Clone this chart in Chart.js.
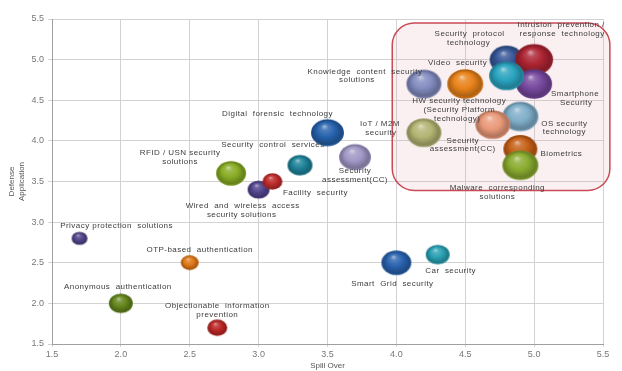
<!DOCTYPE html>
<html>
<head>
<meta charset="utf-8">
<script src="https://cdn.jsdelivr.net/npm/chart.js"></script>
<style>
  html, body { margin: 0; padding: 0; background: #fff; }
  #wrap { width: 622px; height: 371px; }
</style>
</head>
<body>
<div id="wrap"><canvas id="bubbleChart" width="622" height="371"></canvas></div>
<script>
// 技術名（ラベルは行ごとに分割）
const names = [
  ['Privacy protection  solutions'],
  ['Anonymous  authentication'],
  ['OTP-based  authentication'],
  ['Objectionable  information', 'prevention'],
  ['RFID / USN security', 'solutions'],
  ['Wired  and  wireless  access', 'security solutions'],
  ['Facility  security'],
  ['Security  control  services'],
  ['Digital  forensic  technology'],
  ['Security', 'assessment(CC)'],
  ['Smart  Grid  security'],
  ['Car  security'],
  ['Knowledge  content  security', 'solutions'],
  ['HW security technology', '(Security Platform', 'technology)'],
  ['IoT / M2M', 'security'],
  ['Security  protocol', 'technology'],
  ['Intrusion  prevention /', 'response  technology'],
  ['Smartphone', 'Security'],
  ['Video  security'],
  ['OS security', 'technology'],
  ['Security', 'assessment(CC)'],
  ['Biometrics'],
  ['Malware  corresponding', 'solutions']
];

// Spill Over
const spillOver = [1.7, 2.0, 2.5, 2.7, 2.8, 3.0, 3.1, 3.3, 3.5, 3.7, 4.0, 4.3,
  4.2, 4.5, 4.2, 4.8, 5.0, 5.0, 4.8, 4.9, 4.7, 4.9, 4.9];
// Defense Application
const defenseApp = [2.8, 2.0, 2.5, 1.7, 3.6, 3.4, 3.5, 3.7, 4.1, 3.8, 2.5, 2.6,
  4.7, 4.7, 4.1, 5.0, 5.0, 4.7, 4.8, 4.3, 4.2, 3.9, 3.7];
// バブル半径（横方向, px）
const bubbleSize = [8, 12, 9, 10, 15, 11, 10, 12.5, 16.5, 16, 15, 12,
  17.5, 18, 17.5, 17, 19, 18, 17.5, 18, 17.5, 17, 18];

const axisTicks = ['1.5', '2.0', '2.5', '3.0', '3.5', '4.0', '4.5', '5.0', '5.5'];

// 色
const baseColors = ['#524488', '#64861c', '#e07818', '#bc2626', '#88ac24', '#52448c',
  '#c02c2c', '#1e8299', '#2662ac', '#a198c6', '#2862ae', '#29a0b2',
  '#838cc0', '#e8821a', '#b4b474', '#365596', '#ac2432', '#76489e',
  '#2aa4c0', '#80afca', '#ea9a7a', '#c66018', '#8aac30'];

// ラベル位置（バブル中心からのオフセット）
const labelOffsets = [
  [[37, -13]], [[-3, -17]], [[10, -13]], [[0, -22], [0, -13]],
  [[-51, -21], [-51, -12]], [[-16, 16], [-17, 25]], [[43, 11]], [[-27, -20]],
  [[-50, -19]], [[0, 14], [0, 23]], [[-4, 21]], [[13, 16]],
  [[-59, -12], [-67, -4]], [[-6, 17], [-6, 26], [-8, 35]], [[-44, -9], [-43, 0]],
  [[-37, -26], [-38, -17]], [[27, -35], [28, -26]], [[41, 10], [42, 19]],
  [[-49, -13]], [[44, 7], [44, 15]], [[-30, 16], [-30, 24]], [[41, 5]],
  [[-23, 23], [-23, 32]]
];

// 強調枠（データ座標）
const highlightBox = { x0: 3.97, x1: 5.55, y0: 3.39, y1: 5.45 };
const SQUASH = 0.82; // 球の縦横比

function mix(hex, amt) {
  const n = parseInt(hex.slice(1), 16);
  let r = (n >> 16) & 255, g = (n >> 8) & 255, b = n & 255;
  const t = amt > 0 ? 255 : 0;
  const a = Math.abs(amt);
  r = Math.round(r + (t - r) * a);
  g = Math.round(g + (t - g) * a);
  b = Math.round(b + (t - b) * a);
  return `rgb(${r},${g},${b})`;
}

// 立体風の球をcanvasで作成
const sphereCache = {};
function sphereStyle(c) {
  const i = c.dataIndex;
  if (sphereCache[i]) return sphereCache[i];
  const base = baseColors[i];
  const r = bubbleSize[i];
  const w = Math.ceil(r * 2) + 2;
  const h = Math.ceil(r * 2 * SQUASH) + 2;
  const cv = document.createElement('canvas');
  cv.width = w;
  cv.height = h;
  const g2 = cv.getContext('2d');
  g2.translate(w / 2, h / 2);
  g2.scale(1, SQUASH);
  const g = g2.createRadialGradient(-r * 0.2, -r * 0.5, 0, 0, 0, r);
  g.addColorStop(0, mix(base, 0.6));
  g.addColorStop(0.22, mix(base, 0.18));
  g.addColorStop(0.55, base);
  g.addColorStop(0.88, mix(base, -0.25));
  g.addColorStop(1, mix(base, -0.12));
  g2.beginPath();
  g2.arc(0, 0, r, 0, Math.PI * 2);
  g2.fillStyle = g;
  g2.fill();
  sphereCache[i] = cv;
  return cv;
}

const boxPlugin = {
  id: 'highlightBox',
  beforeDatasetsDraw(chart) {
    const { ctx, scales } = chart;
    const x0 = scales.x.getPixelForValue(highlightBox.x0);
    const x1 = scales.x.getPixelForValue(highlightBox.x1);
    const y0 = scales.y.getPixelForValue(highlightBox.y1);
    const y1 = scales.y.getPixelForValue(highlightBox.y0);
    ctx.save();
    ctx.beginPath();
    ctx.roundRect(x0, y0, x1 - x0, y1 - y0, 22);
    ctx.fillStyle = 'rgba(225,160,170,0.16)';
    ctx.fill();
    ctx.lineWidth = 1.5;
    ctx.strokeStyle = '#c94a55';
    ctx.stroke();
    ctx.restore();
  }
};

const labelPlugin = {
  id: 'bubbleLabels',
  afterDatasetsDraw(chart) {
    const ctx = chart.ctx;
    const meta = chart.getDatasetMeta(0);
    ctx.save();
    ctx.font = '8px "Liberation Sans", Arial, sans-serif';
    ctx.letterSpacing = '0.45px';
    ctx.fillStyle = '#3c3c3c';
    ctx.textAlign = 'center';
    ctx.textBaseline = 'middle';
    meta.data.forEach((pt, i) => {
      names[i].forEach((line, j) => {
        const off = labelOffsets[i][j];
        ctx.fillText(line, pt.x + off[0], pt.y + off[1]);
      });
    });
    ctx.restore();
  }
};

const points = spillOver.map((x, i) => ({ x, y: defenseApp[i], r: bubbleSize[i] }));

const tickFont = { family: '"Liberation Sans", Arial, sans-serif', size: 9 };

new Chart(document.getElementById('bubbleChart'), {
  type: 'bubble',
  data: {
    datasets: [{
      data: points,
      pointStyle: sphereStyle,
      backgroundColor: c => baseColors[c.dataIndex],
      borderWidth: 0,
      hoverBorderWidth: 0
    }]
  },
  options: {
    responsive: false,
    animation: false,
    events: [],
    layout: { padding: { top: 8, right: 19, left: 7, bottom: 0 } },
    plugins: { legend: { display: false }, tooltip: { enabled: false } },
    scales: {
      x: {
        type: 'linear', min: 1.5, max: 5.5,
        afterBuildTicks: s => { s.ticks = axisTicks.map(v => ({ value: parseFloat(v) })); },
        afterFit: s => { s.height = 27; },
        ticks: { color: '#777', font: tickFont, padding: 2, callback: v => v.toFixed(1) },
        grid: { color: '#d2d2d2', tickLength: 3 },
        border: { color: '#a0a0a0' },
        title: { display: true, text: 'Spill Over', color: '#555', font: { family: tickFont.family, size: 8 }, padding: 0 }
      },
      y: {
        type: 'linear', min: 1.5, max: 5.5,
        afterBuildTicks: s => { s.ticks = axisTicks.map(v => ({ value: parseFloat(v) })); },
        afterFit: s => { s.width = 45; },
        ticks: { color: '#777', font: tickFont, padding: 4, callback: v => v.toFixed(1) },
        grid: { color: '#d2d2d2', tickLength: 4 },
        border: { color: '#a0a0a0' },
        title: { display: true, text: ['Defense', 'Application'], color: '#555', font: { family: tickFont.family, size: 8 }, padding: 0 }
      }
    }
  },
  plugins: [boxPlugin, labelPlugin]
});
</script>
</body>
</html>
